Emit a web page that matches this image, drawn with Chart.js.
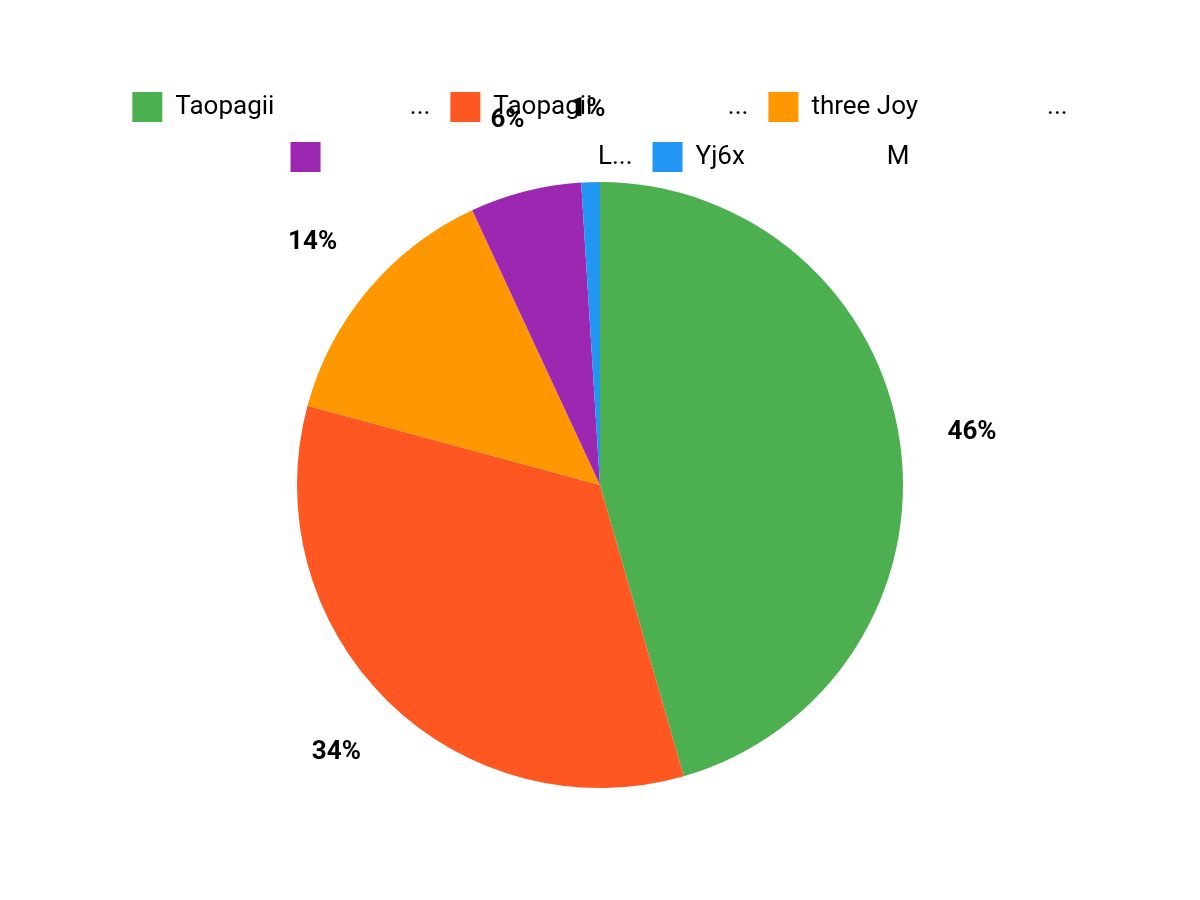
<!DOCTYPE html>
<html>
<head>
<meta charset="utf-8">
<script src="https://cdn.jsdelivr.net/npm/chart.js@4"></script>
<style>
  html, body { margin: 0; padding: 0; background: #fff; }
  #wrap { width: 1200px; height: 900px; }
</style>
</head>
<body>
<div id="wrap"><canvas id="myChart" width="1200" height="900"></canvas></div>
<script>
const labels = [
  'Taopagii                     ...',
  'Taopagii                     ...',
  'three Joy                    ...',
  '                                         L...',
  'Yj6x                      M'
]
const values = [46, 34, 14, 6, 1]
const colors = ['#4caf50', '#ff5722', '#ff9800', '#9c27b0', '#2196f3']

// etiquetas de porcentaje fuera del pastel
const outLabels = {
  id: 'outLabels',
  afterDatasetsDraw( chart ) {
    const ctx = chart.ctx
    const meta = chart.getDatasetMeta( 0 )
    const total = values.reduce( ( a, b ) => a + b, 0 )
    ctx.save()
    ctx.font = 'bold 26px Roboto'
    ctx.fillStyle = '#000'
    ctx.textAlign = 'center'
    ctx.textBaseline = 'middle'
    meta.data.forEach( ( arc, i ) => {
      const mid = ( arc.startAngle + arc.endAngle ) / 2
      const r = arc.outerRadius * 1.24
      const x = arc.x + Math.cos( mid ) * r
      const y = arc.y + Math.sin( mid ) * r
      ctx.fillText( Math.round( values[i] / total * 100 ) + '%', x, y )
    } )
    ctx.restore()
  }
}

new Chart( document.getElementById( 'myChart' ), {
  type: 'pie',
  data: {
    labels: labels,
    datasets: [{ data: values, backgroundColor: colors, borderWidth: 0 }]
  },
  options: {
    responsive: false,
    animation: false,
    layout: { padding: { top: 72, bottom: 112 } },
    plugins: {
      legend: {
        position: 'top',
        labels: {
          boxWidth: 30,
          boxHeight: 30,
          padding: 20,
          color: '#000',
          font: { family: 'Roboto', size: 26 }
        }
      },
      tooltip: { enabled: false }
    }
  },
  plugins: [outLabels]
} )
</script>
</body>
</html>
